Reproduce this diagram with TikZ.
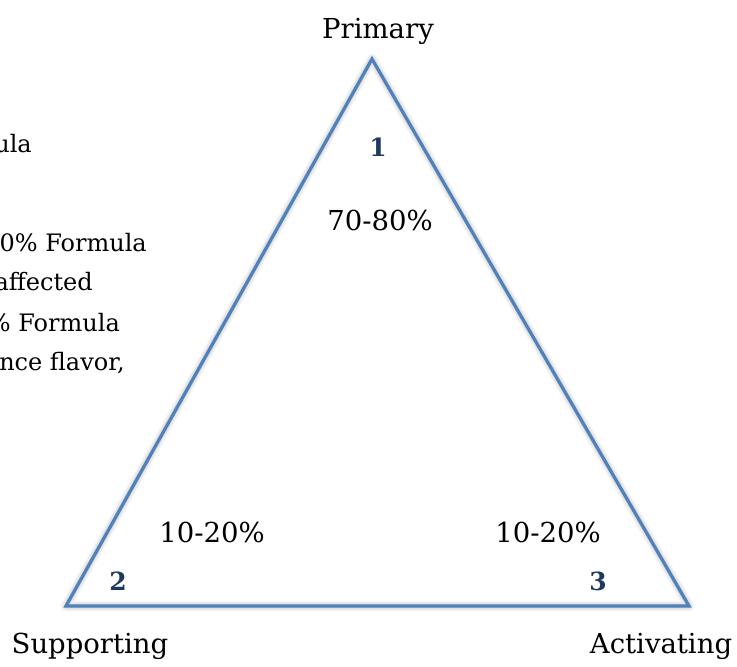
\documentclass[tikz,border=0pt]{standalone}
\usepackage{fontspec}
\setmainfont{DejaVu Serif}
\definecolor{triblue}{RGB}{79,129,189}
\definecolor{numblue}{RGB}{31,56,95}
\tikzset{
  tri/.style={draw=triblue, line width=3.2pt, line join=miter},
  triShadow/.style={draw=black, line join=round, line cap=round},
  lbl/.style={inner sep=0pt, font=\fontsize{27.5}{32}\selectfont, text=black},
  side/.style={inner sep=0pt, font=\fontsize{24}{29}\selectfont, text=black, anchor=base east},
  num/.style={inner sep=0pt, font=\bfseries\fontsize{25}{30}\selectfont, text=numblue, anchor=base},
}
\begin{document}
\begin{tikzpicture}[x=1pt,y=-1pt]
\useasboundingbox (0,0) rectangle (737,667);
\clip (0,0) rectangle (737,667);
\coordinate (A) at (372,59);
\coordinate (B) at (66,606);
\coordinate (C) at (689,606);
% soft shadow
\foreach \w/\op in {11/0.03,8/0.05,5/0.06,3/0.08}{
  \draw[triShadow, line width=\w pt, opacity=\op, shift={(2,5)}] (A) -- (B) -- (C) -- cycle;
}
\draw[tri] (A) -- (B) -- (C) -- cycle;
% vertex labels
\node[lbl, anchor=base] (prim) at (378,38) {Primary};
\node[lbl, anchor=base] (supp) at (90,653) {Supporting};
\node[lbl, anchor=base] (act) at (661,653) {Activating};
% percentages
\node[lbl, anchor=base] (p1) at (380,230) {70-80\%};
\node[lbl, anchor=base] (p2) at (212,542) {10-20\%};
\node[lbl, anchor=base] (p3) at (548,542) {10-20\%};
% numbers
\node[num] (n1) at (378,156) {1};
\node[num] (n2) at (118,590) {2};
\node[num] (n3) at (598,590) {3};
% cut-off side text
\node[side] (s1) at (32,152) {ula};
\node[side] (s2) at (147,251) {0\% Formula};
\node[side] (s3) at (93,290) {affected};
\node[side] (s4) at (120,331) {\% Formula};
\node[side] (s5) at (125,370) {nce flavor,};
\end{tikzpicture}
\end{document}
